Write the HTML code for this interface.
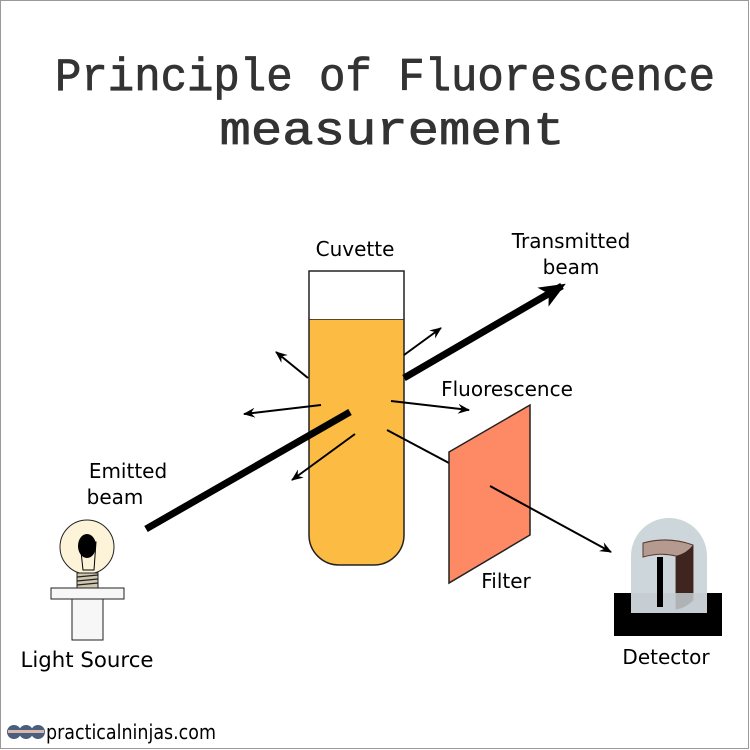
<!DOCTYPE html>
<html><head><style>
html,body{margin:0;padding:0;background:#fff}
svg{display:block}
text{font-family:"DejaVu Sans","Liberation Sans",sans-serif}
</style></head><body>
<svg width="750" height="750" viewBox="0 0 750 750" xmlns="http://www.w3.org/2000/svg">
<defs>
<marker id="ah" viewBox="0 0 12 10" refX="11" refY="5" markerWidth="12" markerHeight="10" markerUnits="userSpaceOnUse" orient="auto">
<path d="M0,0 L12,5 L0,10 L4,5 Z" fill="#000"/>
</marker>
<marker id="ahb" viewBox="0 0 12 10" refX="10" refY="5" markerWidth="28" markerHeight="22" markerUnits="userSpaceOnUse" orient="auto">
<path d="M0,0 L12,5 L0,10 L3,5 Z" fill="#000"/>
</marker>
</defs>
<rect x="0.5" y="0.5" width="748" height="748" fill="#fff" stroke="#999"/>
<text x="385" y="90" text-anchor="middle" font-size="46" fill="#333" stroke="#333" stroke-width="0.8" textLength="660" lengthAdjust="spacingAndGlyphs" style="font-family:'Liberation Mono',monospace">Principle of Fluorescence</text>
<text x="392" y="144" text-anchor="middle" font-size="46" fill="#333" stroke="#333" stroke-width="0.8" textLength="345" lengthAdjust="spacingAndGlyphs" style="font-family:'Liberation Mono',monospace">measurement</text>

<!-- cuvette -->
<path d="M309,319 H404 V535 A30,30 0 0 1 374,565 H339 A30,30 0 0 1 309,535 Z" fill="#fcbb42" stroke="#222" stroke-width="1.5"/>
<path d="M309,319 V271 H404 V319" fill="#fff" stroke="#222" stroke-width="1.5"/>
<text x="355" y="256" text-anchor="middle" font-size="20">Cuvette</text>

<!-- beams -->
<line x1="146" y1="529" x2="350" y2="412" stroke="#000" stroke-width="7"/>
<line x1="404" y1="378" x2="562" y2="286" stroke="#000" stroke-width="7" marker-end="url(#ahb)"/>
<text x="571" y="248" text-anchor="middle" font-size="20">Transmitted</text>
<text x="571" y="274" text-anchor="middle" font-size="20">beam</text>
<text x="128" y="478" text-anchor="middle" font-size="20">Emitted</text>
<text x="115" y="504" text-anchor="middle" font-size="20">beam</text>

<!-- small arrows -->
<g stroke="#000" stroke-width="2" fill="none">
<line x1="404" y1="355" x2="441" y2="328" marker-end="url(#ah)"/>
<line x1="308" y1="378" x2="276" y2="352" marker-end="url(#ah)"/>
<line x1="321" y1="405" x2="244" y2="414" marker-end="url(#ah)"/>
<line x1="391" y1="401" x2="469" y2="410" marker-end="url(#ah)"/>
<line x1="355" y1="434" x2="292" y2="480" marker-end="url(#ah)"/>
<line x1="387" y1="430" x2="449" y2="463"/>
</g>
<text x="507" y="396" text-anchor="middle" font-size="20">Fluorescence</text>

<!-- filter -->
<polygon points="449,452 530,405 530,535 449,583" fill="#fd8a65" stroke="#222" stroke-width="1.5"/>
<line x1="490" y1="486" x2="611" y2="552" stroke="#000" stroke-width="2" marker-end="url(#ah)"/>
<text x="506" y="588" text-anchor="middle" font-size="20">Filter</text>

<!-- detector -->
<rect x="614" y="593" width="108" height="43" fill="#000"/>
<path d="M631,613 V556 A38,38 0 0 1 707,556 V613 Z" fill="#cdd6da"/>
<path d="M643,543 Q668,536 693,545 V600 Q685,608 676,609 V556 Q660,552 643,557 Z" fill="#b59a90" stroke="#5a3a30" stroke-width="1"/>
<path d="M676,556 Q687,553 693,545 V600 Q685,608 676,609 Z" fill="#3e2520"/>
<rect x="657" y="557" width="6" height="50" fill="#000"/>
<rect x="631" y="593" width="76" height="20" fill="#c4cdd1" opacity="0.85"/>
<rect x="657" y="593" width="6" height="14" fill="#000"/>
<text x="666" y="664" text-anchor="middle" font-size="20">Detector</text>

<!-- bulb -->
<circle cx="87" cy="547" r="27" fill="#fcf3d8" stroke="#222" stroke-width="1"/>
<path d="M80,542 L83,570 H94 L96,542 Z" fill="#fcf3d8" stroke="#000" stroke-width="1"/>
<ellipse cx="87" cy="546" rx="9" ry="12" fill="#000"/>
<rect x="77" y="573" width="21" height="15" fill="#cfc6ae" stroke="#222" stroke-width="1"/>
<g stroke="#222" stroke-width="1.2"><line x1="77" y1="577" x2="98" y2="575"/><line x1="77" y1="581" x2="98" y2="579"/><line x1="77" y1="585" x2="98" y2="583"/></g>
<rect x="51" y="588" width="73" height="11" fill="#f7f7f7" stroke="#222" stroke-width="1"/>
<rect x="72" y="599" width="31" height="41" fill="#f7f7f7" stroke="#222" stroke-width="1"/>
<text x="87" y="667" text-anchor="middle" font-size="21" textLength="133" lengthAdjust="spacingAndGlyphs">Light Source</text>

<!-- logo -->
<g>
<circle cx="14" cy="732" r="7" fill="#4a5f80"/><circle cx="26" cy="732" r="7" fill="#4a5f80"/><circle cx="38" cy="732" r="7" fill="#4a5f80"/>
<rect x="8" y="730" width="36" height="3" fill="#d9b8a8"/>
</g>
<text x="46" y="739" font-size="20" textLength="170" lengthAdjust="spacingAndGlyphs">practicalninjas.com</text>
</svg>
</body></html>
